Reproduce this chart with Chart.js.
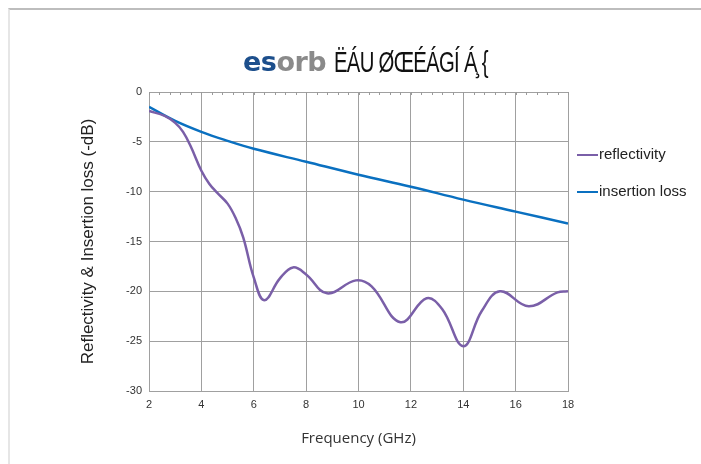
<!DOCTYPE html>
<html lang="en">
<head>
    <meta charset="UTF-8">
    <title>esorb - Reflectivity & Insertion loss</title>
    <script src="https://cdn.jsdelivr.net/npm/chart.js"></script>
    <style>
        html, body { margin: 0; padding: 0; background: #fff; }
        #wrap { position: relative; width: 701px; height: 464px; overflow: hidden; }
        #frame { position: absolute; left: 8px; top: 8px; right: -2px; bottom: -2px;
                 border-top: 2px solid #bdbdbd; border-left: 2px solid #e6e6e6; }
        .t { position: absolute; top: 44px; white-space: nowrap; line-height: 36px; }
        .logo { left: 243px; font-family: "DejaVu Sans", sans-serif; font-weight: bold; font-size: 27px; letter-spacing: -0.5px; }
        .es { color: #1d4f8c; }
        .orb { color: #8a8a8a; }
        .rest { left: 334px; font-family: "Liberation Sans Narrow", "Liberation Sans", sans-serif;
                font-size: 29px; color: #111; transform: scaleX(0.7); transform-origin: left center;
                letter-spacing: -1px; }
        #chart { position: absolute; left: 0; top: 0; }
        .lg { position: absolute; left: 577px; font-family: "Liberation Sans", Arial, sans-serif;
              font-size: 15px; color: #222; line-height: 18px; }
        .lg i { display: inline-block; width: 21px; height: 2px; vertical-align: middle; margin-right: 1px; }
    </style>
</head>
<body>
<div id="wrap">
    <div id="frame"></div>
    <canvas id="chart" width="701" height="464"></canvas>
    <div class="t logo"><span class="es">es</span><span class="orb">orb</span></div>
    <div class="t rest">ËÁU ØŒÉÁGÍ Á̧ {</div>
    <div class="lg" style="top:145px"><i style="background:#7a5fa8"></i>reflectivity</div>
    <div class="lg" style="top:182px"><i style="background:#0a70c0"></i>insertion loss</div>
</div>

<script>
    // data
    const reflFreq = [2, 2.6, 3, 3.3, 3.6, 4, 4.3, 4.6, 5, 5.3, 5.6, 6, 6.4, 7, 7.5, 8, 8.8, 9.9, 10.5, 11.6, 12.6, 13.2, 14, 14.7, 15.4, 16.5, 17.6, 18];
    const reflValues = [-1.9, -2.4, -3.1, -4.0, -5.5, -7.9, -9.2, -10.1, -11.2, -12.6, -14.6, -18.6, -20.9, -18.7, -17.6, -18.3, -20.2, -18.9, -19.5, -23.1, -20.7, -21.8, -25.5, -22.0, -20.0, -21.5, -20.1, -20.0];
    const lossFreq = [2, 3, 4, 5, 6, 8, 10, 12, 14, 16, 18];
    const lossValues = [-1.5, -2.9, -4.0, -4.9, -5.7, -7.0, -8.3, -9.5, -10.8, -12.0, -13.2];
    const xTicks = [2, 4, 6, 8, 10, 12, 14, 16, 18];
    const yTicks = [0, -5, -10, -15, -20, -25, -30];
    const minorStep = 0.4;

    const toPoints = (xs, ys) => xs.map((x, i) => ({ x: x, y: ys[i] }));

    // short minor ticks hanging from the top edge of the plot
    const minorTicks = {
        id: 'minorTicks',
        afterDatasetsDraw(chart) {
            const { ctx, chartArea, scales } = chart;
            const xs = scales.x;
            ctx.save();
            ctx.strokeStyle = '#9a9a9a';
            ctx.lineWidth = 1;
            for (let v = xs.min; v <= xs.max + 1e-9; v += minorStep) {
                const px = Math.round(xs.getPixelForValue(v)) + 0.5;
                ctx.beginPath();
                ctx.moveTo(px, chartArea.top);
                ctx.lineTo(px, chartArea.top + 3);
                ctx.stroke();
            }
            ctx.restore();
        }
    };

    const ctx = document.getElementById('chart').getContext('2d');
    new Chart(ctx, {
        type: 'line',
        data: {
            datasets: [{
                label: 'reflectivity',
                data: toPoints(reflFreq, reflValues),
                borderColor: '#7a5fa8',
                borderWidth: 2.5,
                pointRadius: 0,
                tension: 0.4
            }, {
                label: 'insertion loss',
                data: toPoints(lossFreq, lossValues),
                borderColor: '#0a70c0',
                borderWidth: 2.5,
                pointRadius: 0,
                tension: 0.4
            }]
        },
        options: {
            responsive: false,
            animation: false,
            layout: { padding: { left: 78, right: 133, top: 92, bottom: 0 } },
            plugins: { legend: { display: false }, tooltip: { enabled: false } },
            scales: {
                x: {
                    type: 'linear',
                    min: 2, max: 18,
                    afterBuildTicks: s => { s.ticks = xTicks.map(v => ({ value: v })); },
                    afterFit: s => { s.height = 73; },
                    grid: { color: '#a0a0a0', lineWidth: 1, drawTicks: false },
                    border: { color: '#a0a0a0' },
                    ticks: { padding: 7, color: '#333', font: { family: 'Liberation Sans', size: 11 } },
                    title: {
                        display: true, text: 'Frequency (GHz)', color: '#333',
                        font: { family: 'Open Sans', size: 15 },
                        padding: { top: 0, bottom: 16 }
                    }
                },
                y: {
                    min: -30, max: 0,
                    afterBuildTicks: s => { s.ticks = yTicks.map(v => ({ value: v })); },
                    afterFit: s => { s.width = 71; },
                    grid: { color: '#a0a0a0', lineWidth: 1, drawTicks: false },
                    border: { color: '#a0a0a0' },
                    ticks: { padding: 7, color: '#333', font: { family: 'Liberation Sans', size: 11 } },
                    title: {
                        display: true, text: 'Reflectivity & Insertion loss (-dB)', color: '#222',
                        font: { family: 'Liberation Sans', size: 17 },
                        padding: { top: 0, bottom: 0 }
                    }
                }
            }
        },
        plugins: [minorTicks]
    });
</script>
</body>
</html>
